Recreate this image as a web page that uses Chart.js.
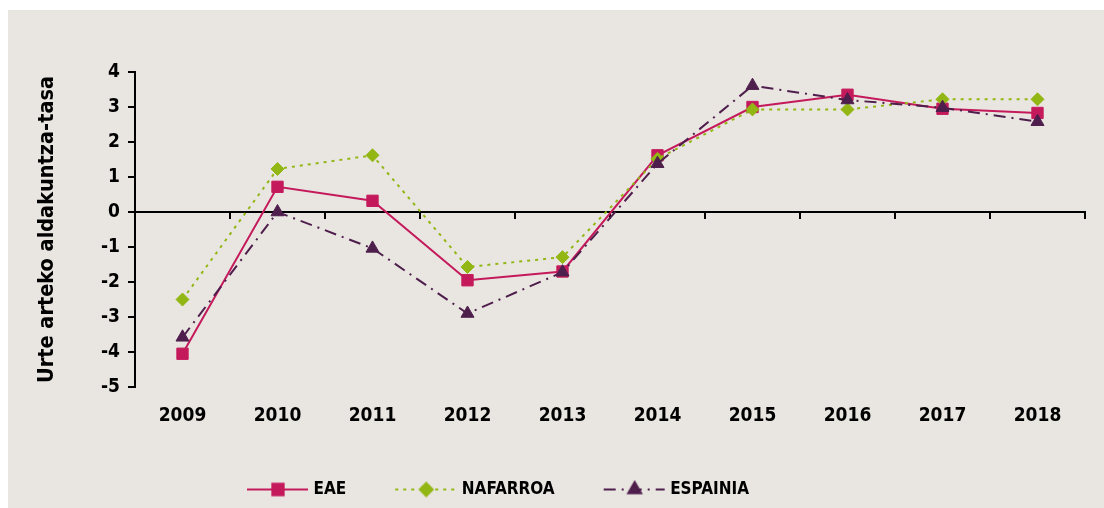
<!DOCTYPE html>
<html>
<head>
<meta charset="utf-8">
<script src="https://cdn.jsdelivr.net/npm/chart.js@4.4.1/dist/chart.umd.min.js"></script>
<style>
    html, body { margin: 0; padding: 0; background: #fff; }
    #wrap { position: absolute; left: 8px; top: 10px; width: 1096px; height: 498px; background: #E9E6E1; }
</style>
</head>
<body>
<div id="wrap"><canvas id="rateChart"></canvas></div>
<script>
// Data
const years = ['2009', '2010', '2011', '2012', '2013', '2014', '2015', '2016', '2017', '2018'];
const eae = [-4.05, 0.72, 0.32, -1.95, -1.7, 1.62, 3.0, 3.35, 2.95, 2.83];
const nafarroa = [-2.5, 1.23, 1.62, -1.57, -1.29, 1.52, 2.93, 2.93, 3.22, 3.22];
const espainia = [-3.58, 0.0, -1.04, -2.9, -1.72, 1.38, 3.61, 3.2, 2.98, 2.58];
const yRange = [-5, 4];
const seriesNames = ['EAE', 'NAFARROA', 'ESPAINIA'];

const FONT = "'DejaVu Sans Condensed', 'DejaVu Sans', sans-serif";
const BOX = 97;          // legend sample box
const LEGEND_LEFT = 190; // where the legend row starts

const styles = [
    { color: '#C41A5C', dash: [], point: 'rect', radius: 8 },
    { color: '#92B614', dash: [3, 5], point: 'rectRot', radius: 6.5 },
    { color: '#4E1E4C', dash: [12, 6, 2, 6], point: 'triangle', radius: 7.5 }
];

// small canvas used as legend point style: dashed line + marker
function legendSample(st) {
    const c = document.createElement('canvas');
    c.width = BOX + 8;
    c.height = 20;
    const ctx = c.getContext('2d');
    ctx.strokeStyle = st.color;
    ctx.fillStyle = st.color;
    ctx.lineWidth = 2;
    ctx.setLineDash(st.dash);
    ctx.beginPath();
    ctx.moveTo(c.width - 62, 10);
    ctx.lineTo(c.width - 1, 10);
    ctx.stroke();
    ctx.setLineDash([]);
    Chart.helpers.drawPoint(ctx, { pointStyle: st.point, radius: st.radius, borderWidth: 1, rotation: 0 }, c.width - 31, 10);
    return c;
}

function makeDataset(i, values) {
    const st = styles[i];
    return {
        label: seriesNames[i],
        data: values,
        borderColor: st.color,
        backgroundColor: st.color,
        borderWidth: 2,
        borderDash: st.dash,
        tension: 0,
        pointStyle: st.point,
        pointRadius: st.radius,
        pointHoverRadius: st.radius,
        pointBorderWidth: 1,
        pointBackgroundColor: st.color,
        pointBorderColor: st.color,
        order: 3 - i
    };
}

const legendPlace = {
    id: 'legendPlace',
    afterLayout(chart) {
        chart.legend.left = LEGEND_LEFT;
    }
};

document.addEventListener('DOMContentLoaded', function() {
    Chart.defaults.font.family = FONT;
    Chart.defaults.font.weight = 'bold';
    Chart.defaults.color = '#000';

    const samples = styles.map(legendSample);

    new Chart(document.getElementById('rateChart'), {
        type: 'line',
        data: {
            labels: years,
            datasets: [makeDataset(0, eae), makeDataset(1, nafarroa), makeDataset(2, espainia)]
        },
        plugins: [legendPlace],
        options: {
            responsive: true,
            maintainAspectRatio: false,
            animation: false,
            layout: {
                padding: { top: 62, right: 19, bottom: 0, left: 0 }
            },
            scales: {
                x: {
                    offset: true,
                    border: { display: false },
                    grid: { display: false, drawTicks: false },
                    ticks: {
                        padding: 18,
                        color: '#000',
                        font: { size: 19, weight: 'bold' }
                    },
                    afterFit: function(scale) {
                        scale.height = 84;
                    }
                },
                xZero: {
                    type: 'category',
                    position: { y: 0 },
                    offset: true,
                    border: { display: true, color: '#000', width: 2 },
                    grid: {
                        display: true,
                        drawOnChartArea: false,
                        drawTicks: true,
                        tickLength: 6,
                        offset: true,
                        color: '#000',
                        lineWidth: 2
                    },
                    ticks: { display: false }
                },
                y: {
                    min: yRange[0],
                    max: yRange[1],
                    border: { color: '#000', width: 2 },
                    grid: {
                        drawOnChartArea: false,
                        drawTicks: true,
                        tickLength: 7,
                        color: '#000',
                        lineWidth: 2
                    },
                    ticks: {
                        stepSize: 1,
                        padding: 8,
                        color: '#000',
                        font: { size: 19, weight: 'bold' }
                    },
                    title: {
                        display: true,
                        text: 'Urte arteko aldakuntza-tasa',
                        color: '#000',
                        font: { size: 21.5, weight: 'bold' },
                        padding: { top: 27, bottom: 0 }
                    },
                    afterFit: function(scale) {
                        scale.width = 127;
                    }
                }
            },
            plugins: {
                legend: {
                    display: true,
                    position: 'bottom',
                    align: 'start',
                    labels: {
                        usePointStyle: true,
                        pointStyleWidth: BOX,
                        padding: 10,
                        color: '#000',
                        font: { size: 17, weight: 'bold' },
                        sort: function(a, b) { return a.datasetIndex - b.datasetIndex; },
                        generateLabels: function(chart) {
                            const items = Chart.defaults.plugins.legend.labels.generateLabels(chart);
                            items.forEach(function(item) {
                                item.pointStyle = samples[item.datasetIndex];
                                item.rotation = 0;
                            });
                            return items;
                        }
                    }
                },
                tooltip: { enabled: false }
            }
        }
    });
});
</script>
</body>
</html>
